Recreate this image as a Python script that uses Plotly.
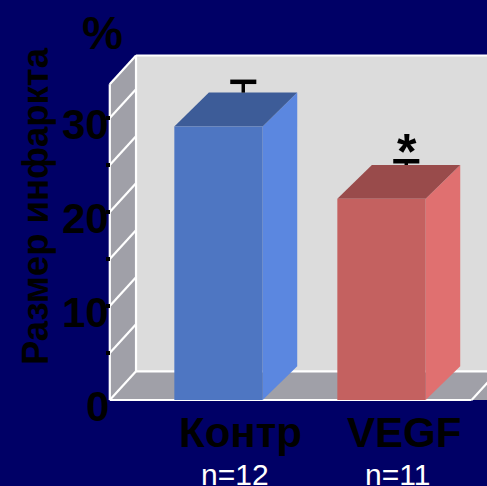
import plotly.graph_objects as go

# ---------------- data ----------------
CATEGORIES = ["Контр", "VEGF"]
SAMPLE_SIZES = ["n=12", "n=11"]
VALUES = [29.1, 21.4]
ERRORS = [1.15, 0.4]
SIGNIFICANCE = ["", "*"]
Y_TICK_VALUES = [0, 10, 20, 30]
Y_TICK_LABELS = ["0", "10", "20", "30"]
MINOR_TICKS = [5, 10, 15, 20, 25, 30]
Y_TITLE = "Размер инфаркта"
UNIT = "%"

FRONT_COLORS = ["#4E76C2", "#C46160"]
SIDE_COLORS = ["#5B87E0", "#E07070"]
TOP_COLORS = ["#3D5C98", "#994B4B"]

# ---------------- style / geometry ----------------
W, H = 487, 486
PX_PER_X = 163.0
PX_PER_Y = 9.4
X0_PX = 218.5
Y0_PX = 400.0
BAR_HALF = 0.271
BAR_DX = 0.212
BAR_DY = 3.6
WALL_DX = 0.161
WALL_DY = 3.05
WALL_TOP = 33.6
FLOOR_LEFT = -0.667
FLOOR_RIGHT = 1.553
FAR_RIGHT = 2.0
ERR_DX = 0.152
CAP_HALF = 0.08
BG = "#000066"
WALL_BACK = "#DCDCDC"
WALL_SIDE = "#A0A0A8"
FONT = "Liberation Sans, Arial, sans-serif"

fig = go.Figure()


def poly(pts, color, line_color=None, lw=0):
    xs = [p[0] for p in pts] + [pts[0][0]]
    ys = [p[1] for p in pts] + [pts[0][1]]
    fig.add_trace(go.Scatter(
        x=xs, y=ys, mode="lines", fill="toself", fillcolor=color,
        line=dict(color=line_color or color, width=lw),
        hoverinfo="skip", showlegend=False))


def segments(segs, color, width):
    xs, ys = [], []
    for (a, b) in segs:
        xs += [a[0], b[0], None]
        ys += [a[1], b[1], None]
    fig.add_trace(go.Scatter(
        x=xs, y=ys, mode="lines", line=dict(color=color, width=width),
        hoverinfo="skip", showlegend=False))


FL, FR = FLOOR_LEFT, FLOOR_RIGHT
BL = FL + WALL_DX
# back wall
poly([(BL, WALL_DY), (FAR_RIGHT, WALL_DY), (FAR_RIGHT, WALL_TOP + WALL_DY),
      (BL, WALL_TOP + WALL_DY)], WALL_BACK)
# side wall
poly([(FL, 0), (BL, WALL_DY), (BL, WALL_TOP + WALL_DY), (FL, WALL_TOP)], WALL_SIDE)
# floor
poly([(FL, 0), (FR, 0), (FR + WALL_DX, WALL_DY), (BL, WALL_DY)], WALL_SIDE)
poly([(FR + WALL_DX, WALL_DY), (FAR_RIGHT, WALL_DY), (FAR_RIGHT, 0), (FR, 0)], WALL_SIDE)

white = [
    ((FL, 0), (FL, WALL_TOP)),
    ((FL, WALL_TOP), (BL, WALL_TOP + WALL_DY)),
    ((BL, WALL_TOP + WALL_DY), (FAR_RIGHT, WALL_TOP + WALL_DY)),
    ((BL, WALL_DY), (BL, WALL_TOP + WALL_DY)),
    ((FL, 0), (FR, 0)),
    ((BL, WALL_DY), (FAR_RIGHT, WALL_DY)),
    ((FL, 0), (BL, WALL_DY)),
    ((FR, 0), (FR + WALL_DX, WALL_DY)),
]
for v in MINOR_TICKS:
    white.append(((FL, v), (BL, v + WALL_DY)))
segments(white, "white", 2.2)

# bars
for i, v in enumerate(VALUES):
    c = i
    L, R = c - BAR_HALF, c + BAR_HALF
    poly([(R, 0), (R + BAR_DX, BAR_DY), (R + BAR_DX, v + BAR_DY), (R, v)], SIDE_COLORS[i])
    poly([(L, v), (R, v), (R + BAR_DX, v + BAR_DY), (L + BAR_DX, v + BAR_DY)], TOP_COLORS[i])
    poly([(L, 0), (R, 0), (R, v), (L, v)], FRONT_COLORS[i])

# error bars
for i, (v, e) in enumerate(zip(VALUES, ERRORS)):
    xe = i + ERR_DX
    base = v + BAR_DY
    segments([((xe, base), (xe, base + e))], "black", 3.5)
    segments([((xe - CAP_HALF, base + e), (xe + CAP_HALF, base + e))], "black", 4.5)

ann = []
# significance mark
for i, (v, e, s) in enumerate(zip(VALUES, ERRORS, SIGNIFICANCE)):
    if s:
        ann.append(dict(x=i + ERR_DX + 0.006, y=v + BAR_DY + e, xref="x", yref="y",
                        text=s, showarrow=False, yanchor="bottom", yshift=-21,
                        font=dict(family=FONT, size=50, color="black", weight="bold")))
# tick labels
for tv, tl in zip(Y_TICK_VALUES, Y_TICK_LABELS):
    ann.append(dict(x=FL, y=tv, xref="x", yref="y", text=tl, showarrow=False,
                    xanchor="right", yanchor="middle", xshift=1, yshift=-6,
                    font=dict(family=FONT, size=42, color="black", weight="bold")))
# category labels
for i, (cat, n) in enumerate(zip(CATEGORIES, SAMPLE_SIZES)):
    ann.append(dict(x=i + 0.135, y=-3.5, xref="x", yref="y", text=cat, showarrow=False,
                    xanchor="center", yanchor="middle",
                    font=dict(family=FONT, size=42, color="black", weight="bold")))
    ann.append(dict(x=i + 0.1, y=-7.9, xref="x", yref="y", text=n, showarrow=False,
                    xanchor="center", yanchor="middle",
                    font=dict(family=FONT, size=30, color="white")))
# titles
ann.append(dict(x=102 / W, y=1 - 33 / H, xref="paper", yref="paper", text=UNIT,
                showarrow=False, xanchor="center", yanchor="middle",
                font=dict(family=FONT, size=46, color="black", weight="bold")))
ann.append(dict(x=36 / W, y=1 - 206 / H, xref="paper", yref="paper", text=Y_TITLE,
                showarrow=False, xanchor="center", yanchor="middle", textangle=-90,
                font=dict(family=FONT, size=36.5, color="black", weight="bold")))

fig.update_layout(
    width=W, height=H, margin=dict(l=0, r=0, t=0, b=0),
    paper_bgcolor=BG, plot_bgcolor=BG, showlegend=False,
    annotations=ann,
    xaxis=dict(range=[-X0_PX / PX_PER_X, (W - X0_PX) / PX_PER_X], visible=False,
               domain=[0, 1]),
    yaxis=dict(range=[(Y0_PX - H) / PX_PER_Y, Y0_PX / PX_PER_Y],
               anchor="free", position=(X0_PX + FL * PX_PER_X) / W,
               tickmode="array", tickvals=MINOR_TICKS, ticks="outside",
               ticklen=4, tickwidth=4, tickcolor="black", showticklabels=False,
               showgrid=False, zeroline=False, showline=False),
)

fig.write_html("out.html",
               config={"displayModeBar": False, "staticPlot": True},
               post_script="document.body.style.margin='0';"
                           "document.body.style.overflow='hidden';"
                           "document.body.style.background='" + BG + "';")
